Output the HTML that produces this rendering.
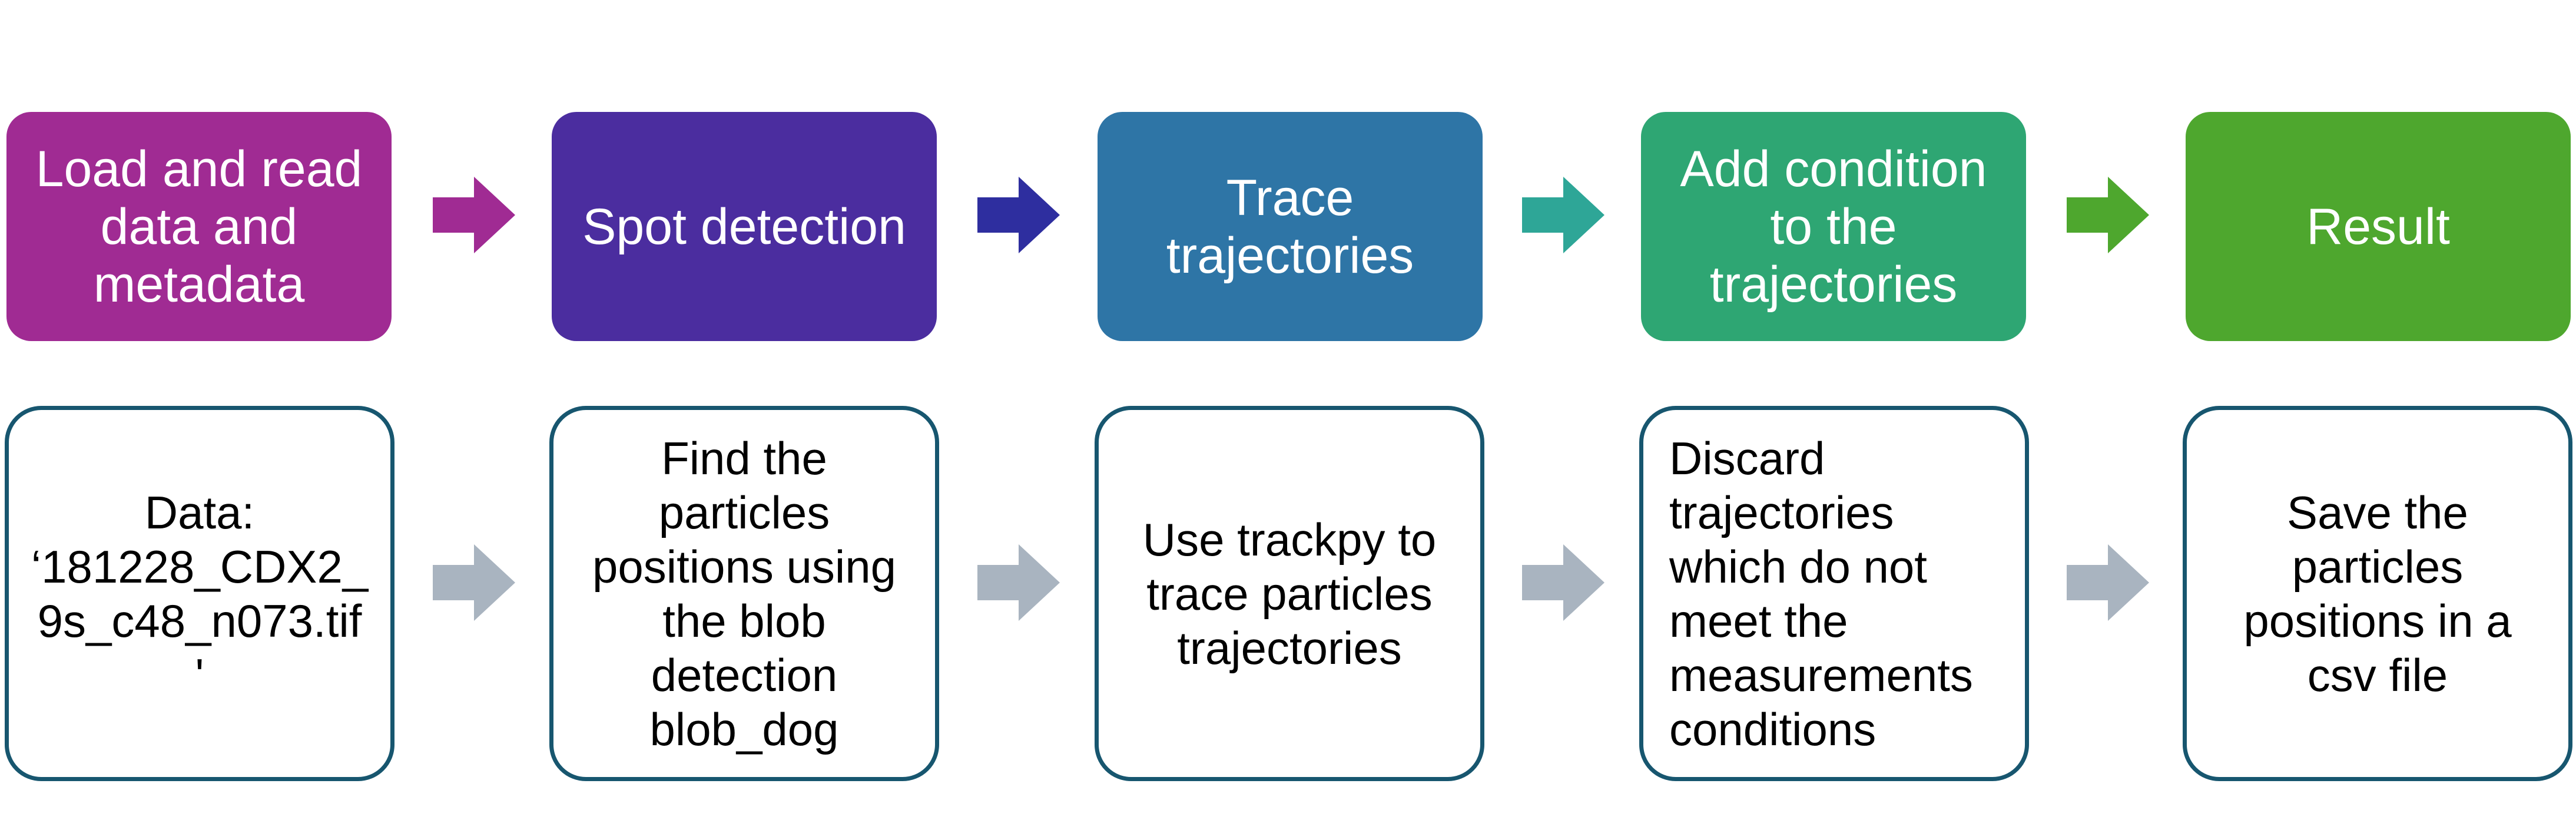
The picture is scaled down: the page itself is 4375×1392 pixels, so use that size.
<!DOCTYPE html>
<html><head><meta charset="utf-8"><style>
html,body{margin:0;padding:0;background:#fff}
body{width:4375px;height:1392px;position:relative;overflow:hidden;font-family:"Liberation Sans",sans-serif}
.t{position:absolute;top:190px;height:389px;width:654px;border-radius:42px;color:#fff;font-size:86px;line-height:98px;display:flex;align-items:center;justify-content:center;text-align:center;box-sizing:border-box;padding:0 10px}
.b{position:absolute;top:689px;height:637px;width:662px;border:7px solid #17566f;border-radius:62px;color:#000;font-size:78px;line-height:92px;display:flex;align-items:center;justify-content:center;text-align:center;box-sizing:border-box;padding:0 20px}
svg{position:absolute;left:0;top:0}
</style></head><body>
<div class="t" style="left:11px;background:#A02B93">Load and read<br>data and<br>metadata</div>
<div class="t" style="left:937px;background:#4B2D9F">Spot detection</div>
<div class="t" style="left:1864px;background:#2E75A6">Trace<br>trajectories</div>
<div class="t" style="left:2787px;background:#2EA673">Add condition<br>to the<br>trajectories</div>
<div class="t" style="left:3712px;background:#4EA72E">Result</div>

<div class="b" style="left:8px">Data:<br>‘181228_CDX2_<br>9s_c48_n073.tif<br>'</div>
<div class="b" style="left:933px">Find the<br>particles<br>positions using<br>the blob<br>detection<br>blob_dog</div>
<div class="b" style="left:1859px">Use trackpy to<br>trace particles<br>trajectories</div>
<div class="b" style="left:2784px;justify-content:flex-start;text-align:left;padding-left:44px">Discard<br>trajectories<br>which do not<br>meet the<br>measurements<br>conditions</div>
<div class="b" style="left:3707px">Save the<br>particles<br>positions in a<br>csv file</div>

<svg width="4375" height="1392">
<defs>
<path id="ar" d="M0,35 H70 V0 L140,65 L70,130 V95 H0 Z"/>
</defs>
<use href="#ar" x="735" y="300" fill="#A02B93"/>
<use href="#ar" x="1660" y="300" fill="#2E2E9F"/>
<use href="#ar" x="2585" y="300" fill="#2EA697"/>
<use href="#ar" x="3510" y="300" fill="#4EA72E"/>
<use href="#ar" x="735" y="924" fill="#A9B4C0"/>
<use href="#ar" x="1660" y="924" fill="#A9B4C0"/>
<use href="#ar" x="2585" y="924" fill="#A9B4C0"/>
<use href="#ar" x="3510" y="924" fill="#A9B4C0"/>
</svg>
</body></html>
